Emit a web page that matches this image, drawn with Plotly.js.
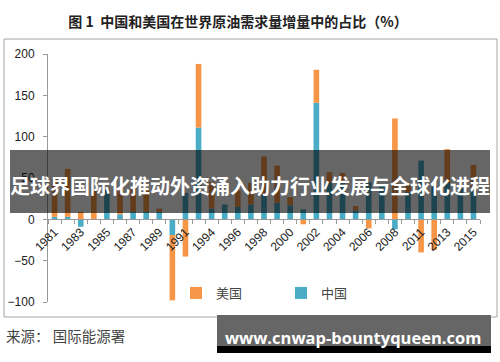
<!DOCTYPE html>
<html>
<head>
<meta charset="utf-8">
<script src="https://cdn.plot.ly/plotly-3.0.1.min.js"></script>
<style>
html,body{margin:0;padding:0;background:#fff;}
#chart{width:500px;height:362px;}
</style>
</head>
<body>
<div id="chart"></div>
<script>
// Categories (two years are absent from the source chart)
const years = ['1981','1982','1983','1984','1985','1986','1987','1988','1989','1990','1991','1992',
  '1994','1995','1996','1997','1998','1999','2000','2001','2002','2003','2004','2005','2006','2007','2008',
  '2010','2011','2012','2013','2014','2015'];
// 中国 share (%)
const china = [3,3,-9,0,36,6,9,9,9,-19,32,111,
  13,18,15,18,30,20,17,12,141,44,44,11,45,42,-12,
  33,71,40,44,38,36];
// 美国 share (%)
const usa = [46,58,9,36,0,30,28,27,4,-79,-45,77,
  32,0,20,26,46,45,10,-6,40,13,12,5,-11,0,122,
  8,-40,-37,41,0,30];
// Tick labels: every other category
const tickLabels = years.map((y,i)=> i%2===0 ? y : '');
const yTicks = [-100,-50,0,50,100,150,200];

const titleText = '图 1  中国和美国在世界原油需求量增量中的占比（%）';
const sourceText = '来源： 国际能源署';
const bannerText = '足球界国际化推动外资涌入助力行业发展与全球化进程';
const markText = 'www.cnwap-bountyqueen.com';

const FONT = 'Liberation Sans, Noto Sans CJK SC, sans-serif';
const CJK = 'Noto Sans CJK SC, sans-serif';

// plot area in px: x 48..480, y 54..302
const L=48, R=480, T=54, B=302;
const px = x => (x-L)/(R-L);
const py = y => (B-y)/(B-T);

const data = [
  {type:'bar', x:years, y:china, name:'中国', marker:{color:'#4BACC6'}},
  {type:'bar', x:years, y:usa, name:'美国', marker:{color:'#F79646'}}
];

const layout = {
  width:500, height:362,
  margin:{l:L, r:500-R, t:T, b:362-B, pad:0},
  paper_bgcolor:'#fff', plot_bgcolor:'rgba(0,0,0,0)',
  barmode:'relative', bargap:0.57,
  font:{family:FONT, size:12, color:'#222'},
  title:{text:'<b>'+titleText+'</b>', x:0.476, xanchor:'center', y:1-22/362, yanchor:'middle',
    font:{family:CJK, size:14, color:'#222'}},
  xaxis:{type:'category', tickmode:'array', tickvals:years, ticktext:tickLabels,
    tickangle:-45, tickson:'boundaries', ticks:'outside', ticklen:4, tickcolor:'#999',
    showline:true, linecolor:'#999', linewidth:1, showgrid:false, zeroline:false,
    anchor:'free', position:1/3, automargin:false,
    tickfont:{family:FONT, size:12, color:'#222'}},
  yaxis:{range:[-100,200], tickmode:'array', tickvals:yTicks, ticks:'outside', ticklen:4,
    tickcolor:'#999', showline:true, linecolor:'#999', linewidth:1, showgrid:false,
    zeroline:false, automargin:false, ticklabelstandoff:6,
    tickfont:{family:FONT, size:12, color:'#222'}},
  showlegend:true,
  legend:{orientation:'h', traceorder:'reversed', x:px(176), xanchor:'left', y:py(293), yanchor:'middle',
    itemwidth:30, entrywidth:60, entrywidthmode:'pixels', bgcolor:'rgba(0,0,0,0)',
    font:{family:CJK, size:13, color:'#444'}},
  shapes:[
    {type:'rect', xref:'paper', yref:'paper', x0:px(4), x1:px(497), y0:py(317), y1:py(39),
      line:{color:'#a6a6a6', width:1}, fillcolor:'rgba(0,0,0,0)', layer:'below'},
    {type:'rect', xref:'paper', yref:'paper', x0:px(10), x1:px(490), y0:py(213), y1:py(150),
      line:{width:0}, fillcolor:'rgba(0,0,0,0.6)', layer:'above'},
    {type:'rect', xref:'paper', yref:'paper', x0:px(217), x1:px(491), y0:py(346), y1:py(315),
      line:{width:0}, fillcolor:'#666666', layer:'above'},
    {type:'rect', xref:'paper', yref:'paper', x0:px(217), x1:px(491), y0:py(353), y1:py(346),
      line:{width:0}, fillcolor:'#000000', layer:'above'}
  ],
  annotations:[
    {text:'<b>'+bannerText+'</b>', xref:'paper', yref:'paper', x:px(250), y:py(185),
      xanchor:'center', yanchor:'middle', showarrow:false,
      font:{family:CJK, size:20, color:'#ffffff'}},
    {text:sourceText, xref:'paper', yref:'paper', x:px(4), y:py(335),
      xanchor:'left', yanchor:'middle', showarrow:false,
      font:{family:CJK, size:14.5, color:'#444'}},
    {text:'<b>'+markText+'</b>', xref:'paper', yref:'paper', x:px(353), y:py(337),
      xanchor:'center', yanchor:'middle', showarrow:false,
      font:{family:'Open Sans, sans-serif', size:16.5, color:'#ffffff'}}
  ]
};

Plotly.newPlot('chart', data, layout, {displayModeBar:false, staticPlot:true});
</script>
</body>
</html>
